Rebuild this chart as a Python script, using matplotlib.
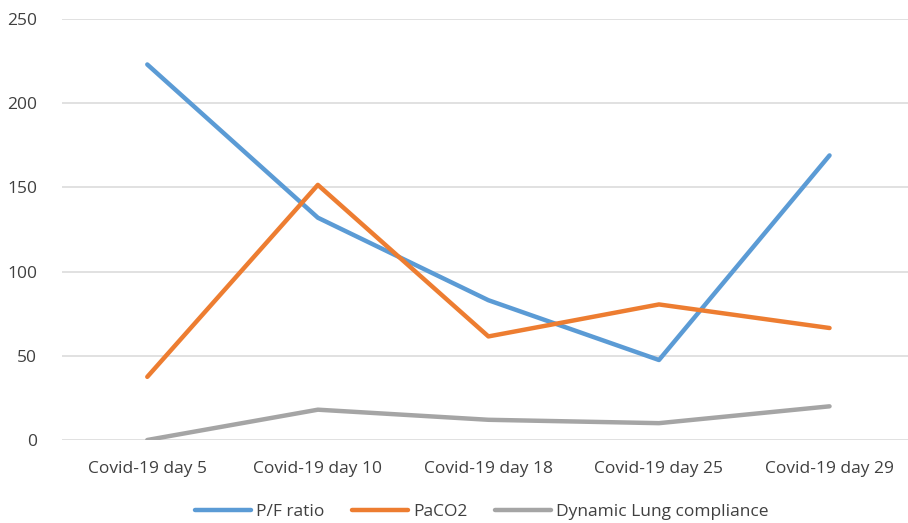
import matplotlib
matplotlib.use("Agg")
import matplotlib.pyplot as plt

categories = ["Covid-19 day 5", "Covid-19 day 10", "Covid-19 day 18",
              "Covid-19 day 25", "Covid-19 day 29"]
pf_ratio = [223, 132, 83, 47.5, 169]
paco2 = [37.5, 151.5, 61.5, 80.5, 66.5]
lung_compliance = [0, 18, 12, 10, 20]
y_ticks = [0, 50, 100, 150, 200, 250]

plt.rcParams["font.family"] = ["Open Sans", "DejaVu Sans"]

fig = plt.figure(figsize=(9.08, 5.23), dpi=100)
ax = fig.add_axes([62 / 908, 1 - 440 / 523, (908 - 62) / 908, (440 - 19) / 523])

x = list(range(len(categories)))
ax.plot(x, pf_ratio, color="#5B9BD5", lw=3.2, solid_capstyle="round",
        solid_joinstyle="round", label="P/F ratio", zorder=3)
ax.plot(x, paco2, color="#ED7D31", lw=3.2, solid_capstyle="round",
        solid_joinstyle="round", label="PaCO2", zorder=3)
ax.plot(x, lung_compliance, color="#A5A5A5", lw=3.2, solid_capstyle="round",
        solid_joinstyle="round", label="Dynamic Lung compliance", zorder=3)

ax.set_xlim(-0.5, 4.46)
ax.set_ylim(0, 250)
ax.set_yticks(y_ticks)
ax.set_xticks(x)
ax.set_xticklabels(categories)
ax.grid(axis="y", color="#D9D9D9", lw=1.1)
ax.set_axisbelow(True)
for s in ax.spines.values():
    s.set_visible(False)
ax.tick_params(axis="both", length=0, labelsize=12.5, colors="#595959")
ax.tick_params(axis="x", pad=15)
ax.tick_params(axis="y", pad=18)
for lbl in ax.get_xticklabels() + ax.get_yticklabels():
    lbl.set_color("#404040")

leg = fig.legend(loc="center", bbox_to_anchor=(482 / 908, 1 - 512 / 523),
                 ncol=3, frameon=False, fontsize=12.5, handlelength=3.2,
                 columnspacing=1.6, handletextpad=0.3)
for t in leg.get_texts():
    t.set_color("#404040")

fig.savefig("out.png", dpi=100)
